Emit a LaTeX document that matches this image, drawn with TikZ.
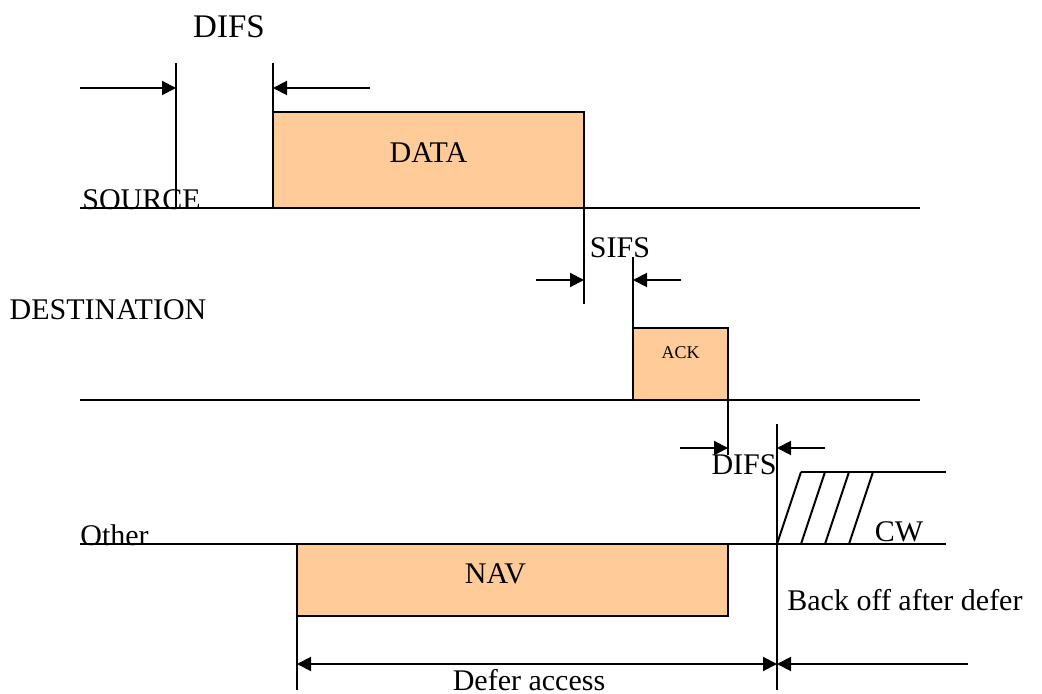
\documentclass[tikz,border=0pt]{standalone}
\usepackage{fontspec}
\setmainfont{Liberation Serif}
\usepackage{tikz}
\usetikzlibrary{arrows.meta, positioning, calc}
\definecolor{frameink}{HTML}{000000}
\definecolor{framefill}{HTML}{FFCC99}
\tikzset{
  fbox/.style={draw=frameink, fill=framefill, anchor=north west, inner sep=0pt, outer sep=0pt,
    font=\fontsize{15}{18}\selectfont, line width=1pt},
  tline/.style={draw=frameink, line width=1pt},
  gap/.style={-{Triangle[length=7pt, width=7pt]}, draw=frameink, line width=1pt},
  lbl/.style={font=\fontsize{15}{18}\selectfont, inner sep=0pt}
}

\begin{document}
\begin{tikzpicture}[x=0.5pt, y=-0.5pt]
\useasboundingbox (0,0) rectangle (1042,694);
% frames
\node[fbox, minimum width=155.5pt, minimum height=48pt, text depth=7pt] (data) at (273,112) {DATA};
\node[fbox, minimum width=47.5pt, minimum height=36pt, text depth=11pt, font=\fontsize{9}{11}\selectfont] (ack) at (633,328) {ACK};
\node[fbox, minimum width=215.5pt, minimum height=36pt, text depth=6pt] (nav) at (297,544) {NAV\hspace*{17pt}};
% time lines
\coordinate (src0) at (80,208); \coordinate (src1) at (920,208);
\coordinate (dst0) at (80,400); \coordinate (dst1) at (920,400);
\coordinate (oth0) at (80,544); \coordinate (oth1) at (946,544);
\draw[tline] (src0)--(src1); \draw[tline] (dst0)--(dst1); \draw[tline] (oth0)--(oth1);
\node[lbl, anchor=south west] (source) at (82,210) {SOURCE};
\node[lbl] (dest) at (108,310) {DESTINATION};
\node[lbl, anchor=south west] (other) at (80,546) {Other};
% DIFS before data
\coordinate (d1top) at (176,63); \coordinate (d1bot) at (176,208);
\coordinate (d2top) at (273,63);
\draw[tline] (d1top)--(d1bot); \draw[tline] (d2top)--(data.north west);
\coordinate (da) at (80,88); \coordinate (db) at (370,88);
\draw[gap] (da)--(d1top|-da); \draw[gap] (db)--(d2top|-db);
\node[lbl, font=\fontsize{16.5}{20}\selectfont] (difsa) at (229,27) {DIFS};
% SIFS
\coordinate (s1bot) at (584,304); \coordinate (s2top) at (633,257);
\draw[tline] (data.south east)--(s1bot); \draw[tline] (s2top)--(ack.north west);
\coordinate (sa) at (536,280); \coordinate (sb) at (681,280);
\draw[gap] (sa)--(s1bot|-sa); \draw[gap] (sb)--(s2top|-sb);
\node[lbl] (sifs) at (620,248) {SIFS};
% DIFS after ack
\coordinate (a1bot) at (728,455); \coordinate (b1top) at (777,424); \coordinate (b1bot) at (777,690);
\draw[tline] (ack.south east)--(a1bot); \draw[tline] (b1top)--(b1bot);
\coordinate (ea) at (680,448); \coordinate (eb) at (825,448);
\draw[gap] (ea)--(a1bot|-ea); \draw[gap] (eb)--(b1top|-eb);
\node[lbl] (difsb) at (744,465) {DIFS};
% contention window
\coordinate (cw0) at (801,472); \coordinate (cw1) at (946,472);
\draw[tline] (cw0)--(cw1);
\foreach \i in {0,1,2,3}
  \draw[tline] (777+24*\i,544)--(801+24*\i,472);
\node[lbl] (cw) at (899,532) {CW};
\node[lbl, anchor=west] (backoff) at (787,600) {Back off after defer};
% defer access
\coordinate (nbot) at (297,690);
\draw[tline] (nav.south west)--(nbot);
\coordinate (fa) at (297,664); \coordinate (fb) at (968,664);
\draw[gap, {Triangle[length=7pt, width=7pt]}-{Triangle[length=7pt, width=7pt]}] (fa)--(b1bot|-fa);
\draw[gap] (fb)--(b1bot|-fb);
\node[lbl] (defer) at (529,680) {Defer access};
\end{tikzpicture}
\end{document}
